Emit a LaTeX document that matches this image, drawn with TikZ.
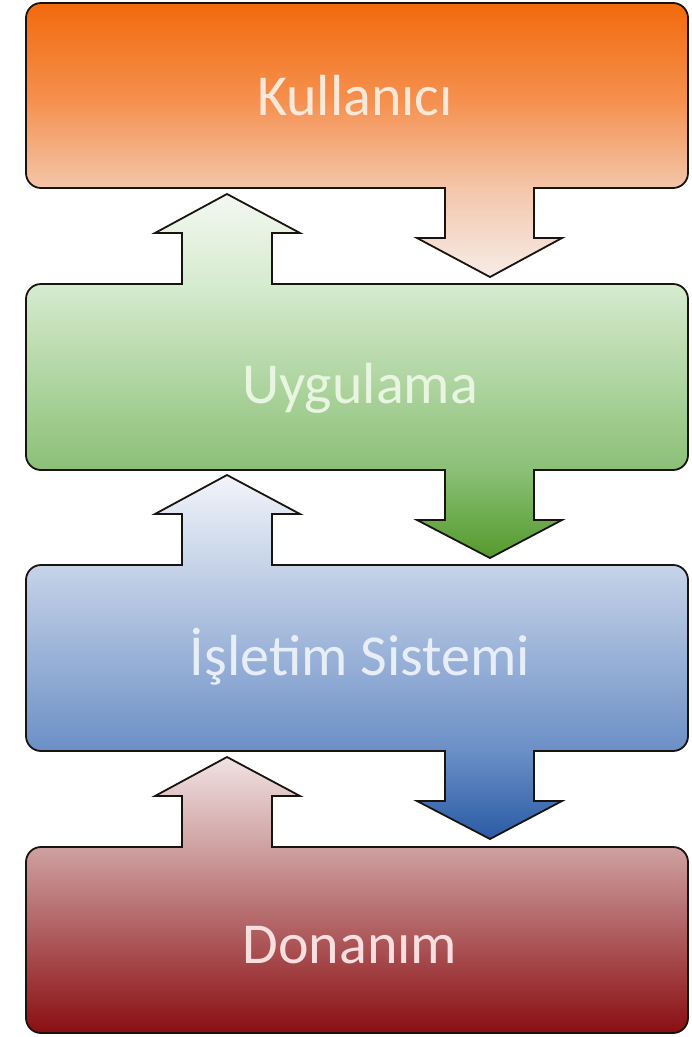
\documentclass[tikz,border=0pt]{standalone}
\usepackage{fontspec}
\setmainfont{Carlito}
\definecolor{edgec}{HTML}{1A1410}
\definecolor{a0}{HTML}{F6ECE7}
\definecolor{a1}{HTML}{F4C6AA}
\definecolor{a2}{HTML}{F5904F}
\definecolor{a3}{HTML}{F26A0C}
\definecolor{b0}{HTML}{549A2C}
\definecolor{b1}{HTML}{8BC076}
\definecolor{b2}{HTML}{D6EBCF}
\definecolor{b3}{HTML}{F3F8F1}
\definecolor{c0}{HTML}{2A5BA6}
\definecolor{c1}{HTML}{6B8FC6}
\definecolor{c2}{HTML}{C6D3E9}
\definecolor{c3}{HTML}{F2F4FA}
\definecolor{d0}{HTML}{8A0E12}
\definecolor{d2}{HTML}{CFA1A1}
\definecolor{d3}{HTML}{F1E2E2}
\pgfdeclareverticalshading{layerA}{100bp}{%
  color(0bp)=(a0); color(25bp)=(a0);
  color(41.2bp)=(a1); color(57.3bp)=(a2);
  color(75bp)=(a3); color(100bp)=(a3)}
\pgfdeclareverticalshading{layerB}{100bp}{%
  color(0bp)=(b0); color(25bp)=(b0);
  color(37.1bp)=(b1); color(62.6bp)=(b2);
  color(75bp)=(b3); color(100bp)=(b3)}
\pgfdeclareverticalshading{layerC}{100bp}{%
  color(0bp)=(c0); color(25bp)=(c0);
  color(37.1bp)=(c1); color(62.6bp)=(c2);
  color(75bp)=(c3); color(100bp)=(c3)}
\pgfdeclareverticalshading{layerD}{100bp}{%
  color(0bp)=(d0); color(25bp)=(d0);
  color(58.7bp)=(d2);
  color(75bp)=(d3); color(100bp)=(d3)}
\definecolor{txtA}{HTML}{FCE8D8}
\definecolor{txtB}{HTML}{E8F5E0}
\definecolor{txtC}{HTML}{E8EEF8}
\definecolor{txtD}{HTML}{F8DEDF}
\tikzset{
  layer/.style={draw=edgec, line width=1.8pt, line join=miter},
  label/.style={font=\fontsize{58}{60}\selectfont, anchor=base, inner sep=0pt}
}
\begin{document}
\begin{tikzpicture}[x=1pt, y=-1pt]
\useasboundingbox (0,0) rectangle (692,1037);
\fill[white] (0,0) rectangle (692,1037);
% Layer 1: Kullanici
\path[layer, shading=layerA]
  (41,3) -- (673,3) .. controls (681.3,3) and (688,9.7) .. (688,18)
  -- (688,173) .. controls (688,181.3) and (681.3,188) .. (673,188)
  -- (534,188) -- (534,238) -- (562,238) -- (490,277) -- (417,238) -- (445,238) -- (445,188)
  -- (41,188) .. controls (32.7,188) and (26,181.3) .. (26,173)
  -- (26,18) .. controls (26,9.7) and (32.7,3) .. (41,3) -- cycle;
% Layer 2: Uygulama
\path[layer, shading=layerB]
  (41,284) -- (182,284) -- (182,233) -- (155,233) -- (227,194) -- (300,233) -- (272,233) -- (272,284)
  -- (673,284) .. controls (681.3,284) and (688,290.7) .. (688,299)
  -- (688,455) .. controls (688,463.3) and (681.3,470) .. (673,470)
  -- (534,470) -- (534,520) -- (562,520) -- (490,558) -- (417,520) -- (445,520) -- (445,470)
  -- (41,470) .. controls (32.7,470) and (26,463.3) .. (26,455)
  -- (26,299) .. controls (26,290.7) and (32.7,284) .. (41,284) -- cycle;
% Layer 3: Isletim Sistemi
\path[layer, shading=layerC]
  (41,565) -- (182,565) -- (182,514) -- (155,514) -- (227,475) -- (300,514) -- (272,514) -- (272,565)
  -- (673,565) .. controls (681.3,565) and (688,571.7) .. (688,580)
  -- (688,736) .. controls (688,744.3) and (681.3,751) .. (673,751)
  -- (534,751) -- (534,801) -- (562,801) -- (490,839) -- (417,801) -- (445,801) -- (445,751)
  -- (41,751) .. controls (32.7,751) and (26,744.3) .. (26,736)
  -- (26,580) .. controls (26,571.7) and (32.7,565) .. (41,565) -- cycle;
% Layer 4: Donanim
\path[layer, shading=layerD]
  (41,847) -- (182,847) -- (182,796) -- (155,796) -- (227,757) -- (300,796) -- (272,796) -- (272,847)
  -- (673,847) .. controls (681.3,847) and (688,853.7) .. (688,862)
  -- (688,1018) .. controls (688,1026.3) and (681.3,1033) .. (673,1033)
  -- (41,1033) .. controls (32.7,1033) and (26,1026.3) .. (26,1018)
  -- (26,862) .. controls (26,853.7) and (32.7,847) .. (41,847) -- cycle;
% Labels
\node[label, text=txtA] (kul) at (355,115) {Kullanıcı};
\node[label, text=txtB] (uyg) at (360,403) {Uygulama};
\node[label, text=txtC] (ist) at (360,675) {İşletim Sistemi};
\node[label, text=txtD] (don) at (350,963) {Donanım};
\end{tikzpicture}
\end{document}
